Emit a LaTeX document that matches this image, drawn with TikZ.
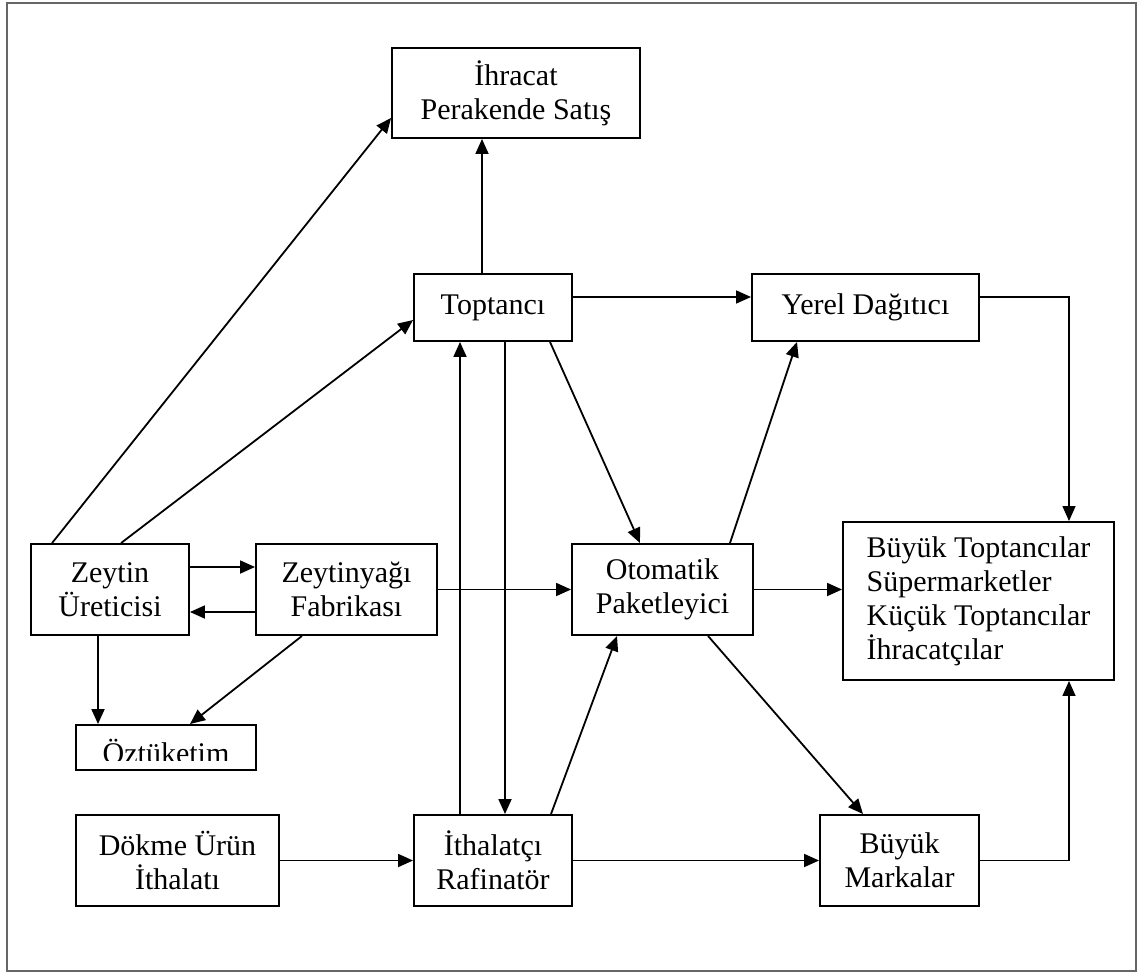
\documentclass[tikz,border=0pt]{standalone}
\usepackage{fontspec}
\setmainfont{Liberation Serif}
\usetikzlibrary{arrows.meta}
\newcommand{\dfont}{\fontsize{30}{34}\selectfont}
\tikzset{
  box/.style={draw, line width=1.9pt, inner sep=0pt, align=center, font=\dfont},
  arr/.style={line width=1.8pt, -{Triangle[length=15pt,width=13pt]}},
  thinarr/.style={line width=1.4pt, -{Triangle[length=15pt,width=13pt]}},
  frame/.style={draw=black!60, line width=2pt}
}
\begin{document}
\begin{tikzpicture}[x={(1pt,0)}, y={(0,-1pt)}]
\useasboundingbox (0,0) rectangle (1142,973);
\draw[frame] (7,3) rectangle (1136,971);

\node[box, minimum width=248pt, minimum height=90pt] (ihr) at (516,93) {İhracat\\Perakende Satış};
\node[box, minimum width=158pt, minimum height=67pt] (top) at (493,307.5) {Toptancı};
\node[box, minimum width=227pt, minimum height=67pt] (yer) at (865.5,307.5) {Yerel Dağıtıcı};
\node[box, minimum width=158pt, minimum height=91pt] (zey) at (110,589.5) {Zeytin\\Üreticisi};
\node[box, minimum width=181pt, minimum height=91pt] (zyf) at (346.5,589.5) {Zeytinyağı\\Fabrikası};
\node[box, minimum width=181pt, minimum height=91pt] (oto) at (662.5,589.5) {Otomatik\\Paketleyici};
\node[box, align=left, minimum width=271pt, minimum height=158pt] (bt) at (978.5,601) {Büyük Toptancılar\\Süpermarketler\\Küçük Toptancılar\\İhracatçılar};
\node[box, minimum width=180pt, minimum height=45pt] (oz) at (166,747.5) {};
\begin{scope}
  \clip (77,726) rectangle (255,760.5);
  \node[font=\dfont, anchor=base, inner sep=0pt] (oztext) at (166,763) {Öztüketim};
\end{scope}
\node[box, minimum width=203pt, minimum height=91pt] (dok) at (177.5,860.5) {Dökme Ürün\\İthalatı};
\node[box, minimum width=158pt, minimum height=91pt] (ith) at (493,860.5) {İthalatçı\\Rafinatör};
\node[box, minimum width=159pt, minimum height=91pt] (bm) at (899.5,860.5) {Büyük\\Markalar};

% connectors
\draw[arr] ([xshift=22pt]zey.north west) -- ([yshift=-25pt]ihr.west);
\draw[arr] ([xshift=91pt]zey.north west) -- ([yshift=-12.5pt]top.west);
\draw[arr] ([yshift=22.5pt]zey.east) -- ([yshift=22.5pt]zyf.west);
\draw[arr] ([yshift=-22.5pt]zyf.west) -- ([yshift=-22.5pt]zey.east);
\draw[arr] ([xshift=-12pt]zey.south) -- ([xshift=-68pt]oz.north);
\draw[arr] ([xshift=-44.5pt]zyf.south) -- ([xshift=24pt]oz.north);
\draw[arr] (zyf.east) -- (oto.west);
\draw[arr] ([xshift=-11pt]top.north) -- ([xshift=-34pt]ihr.south);
\draw[arr] ([yshift=10.5pt]top.east) -- ([yshift=10.5pt]yer.west);
\draw[arr] ([xshift=-33pt]ith.north) -- ([xshift=-33pt]top.south);
\draw[arr] ([xshift=12pt]top.south) -- ([xshift=12pt]ith.north);
\draw[arr] ([xshift=57pt]top.south) -- ([xshift=-22.5pt]oto.north);
\draw[arr] ([xshift=67.5pt]oto.north) -- ([xshift=-68.5pt]yer.south);
\draw[arr] ([xshift=58pt]ith.north) -- ([xshift=-45.5pt]oto.south);
\draw[arr] ([xshift=45.5pt]oto.south) -- ([xshift=-36.5pt]bm.north);
\draw[arr] (oto.east) -- (oto.east -| bt.west);
\draw[thinarr] ([yshift=10.5pt]yer.east) -| ([xshift=90.5pt]bt.north);
\draw[thinarr] (bm.east) -| ([xshift=90.5pt]bt.south);
\draw[arr] (dok.east) -- (ith.west);
\draw[arr] (ith.east) -- (bm.west);
\end{tikzpicture}
\end{document}
